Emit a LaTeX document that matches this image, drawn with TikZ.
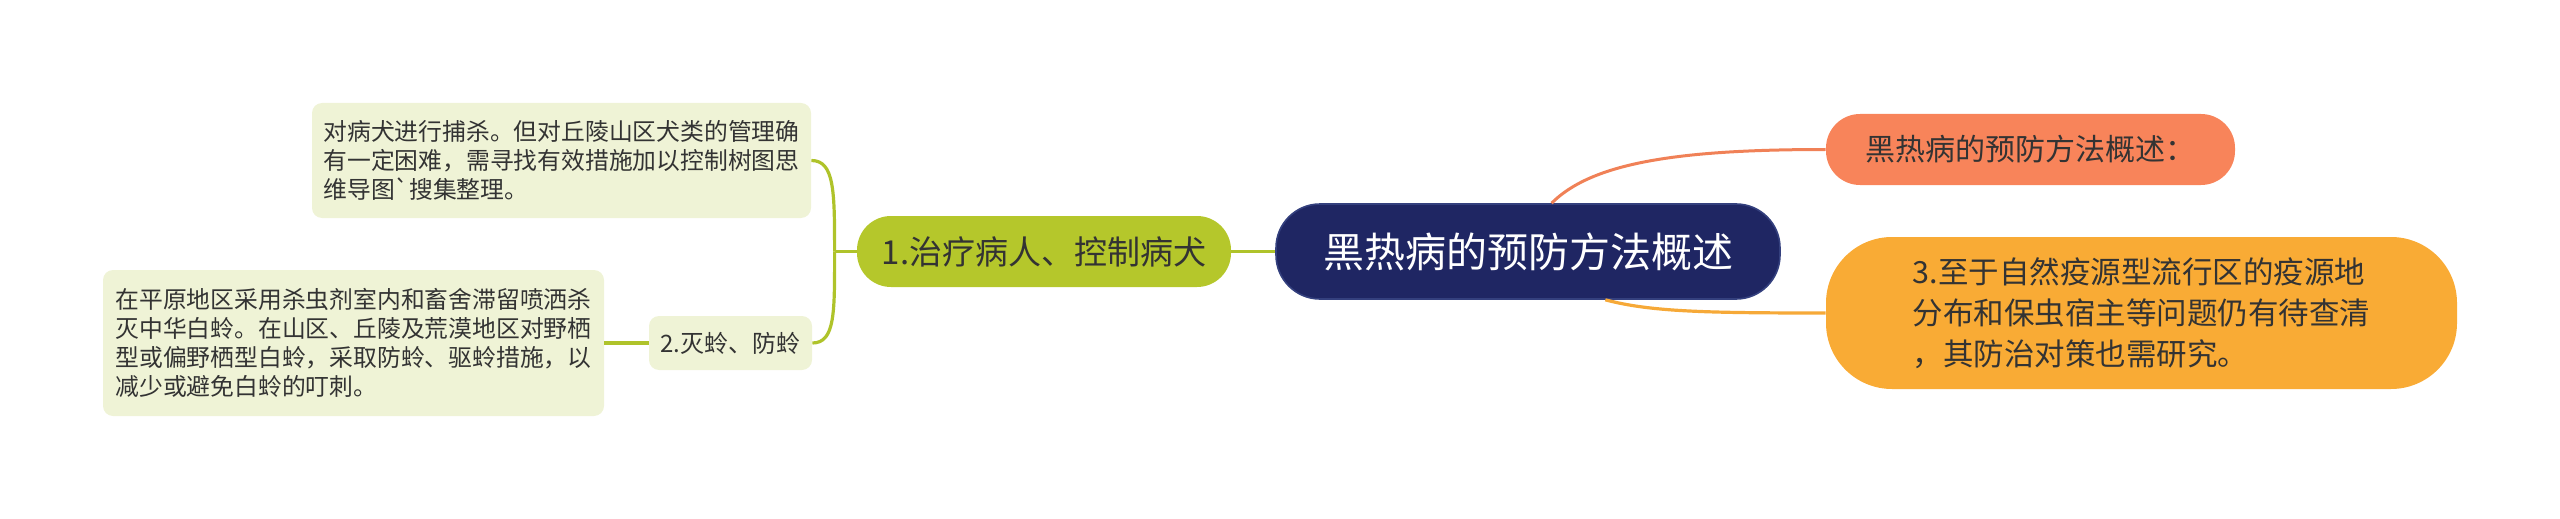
\documentclass[tikz,border=0pt]{standalone}
\usepackage{fontspec}
\setmainfont{Noto Sans CJK SC}
\usetikzlibrary{positioning}

\definecolor{rootbg}{HTML}{1F2663}
\definecolor{rootline}{HTML}{34407E}
\definecolor{limebg}{HTML}{B5C72B}
\definecolor{leafbg}{HTML}{EFF3D6}
\definecolor{coralbg}{HTML}{F8845A}
\definecolor{amberbg}{HTML}{F9AB35}
\definecolor{greenln}{HTML}{AFC32A}
\definecolor{coralln}{HTML}{F08157}
\definecolor{amberln}{HTML}{F6A938}
\definecolor{txt}{HTML}{333333}

\begin{document}
\begin{tikzpicture}[x=0.5pt, y=-0.5pt,
    every node/.style={text=txt, inner sep=0pt},
    root/.style={fill=rootbg, draw=rootline, line width=0.8pt, rounded corners=22pt,
        minimum width=252pt, minimum height=47.5pt, text=white,
        font=\fontsize{20.5pt}{24pt}\selectfont},
    branch/.style={fill=limebg, rounded corners=17pt, minimum width=187pt,
        minimum height=35.5pt, font=\fontsize{16.5pt}{20pt}\selectfont},
    leaf/.style={fill=leafbg, rounded corners=5pt, align=left,
        font=\fontsize{11.9pt}{14.5pt}\selectfont},
    gline/.style={draw=greenln, line width=1.6pt},
    cline/.style={draw=coralln, line width=1.5pt},
    aline/.style={draw=amberln, line width=1.6pt}]

    \useasboundingbox (0,0) rectangle (2560,519);

    % 中心主题
    \node[root] (c) at (1528,251.5) {黑热病的预防方法概述};

    % 左侧分支
    \node[branch] (n1) at (1044,251.5) {1.治疗病人、控制病犬};
    \node[leaf, minimum width=249.5pt, minimum height=57.5pt] (lt) at (561.5,160.5)
        {对病犬进行捕杀。但对丘陵山区犬类的管理确\\
         有一定困难，需寻找有效措施加以控制树图思\\
         维导图\textasciigrave 搜集整理。};
    \node[leaf, minimum width=81.5pt, minimum height=27pt,
        font=\fontsize{12pt}{14pt}\selectfont] (n2) at (730.5,343) {2.灭蛉、防蛉};
    \node[leaf, minimum width=250.5pt, minimum height=73pt] (lb) at (353.5,343)
        {在平原地区采用杀虫剂室内和畜舍滞留喷洒杀\\
         灭中华白蛉。在山区、丘陵及荒漠地区对野栖\\
         型或偏野栖型白蛉，采取防蛉、驱蛉措施，以\\
         减少或避免白蛉的叮刺。};

    % 右侧分支
    \node[fill=coralbg, rounded corners=17pt, minimum width=204.5pt, minimum height=35.5pt,
        font=\fontsize{15pt}{18pt}\selectfont] (o) at (2030.5,149.5) {黑热病的预防方法概述：};
    \node[fill=amberbg, rounded corners=33pt, minimum width=315.5pt, minimum height=76pt,
        align=left, font=\fontsize{15.25pt}{20.5pt}\selectfont] (a) at (2141.5,313)
        {3.至于自然疫源型流行区的疫源地\\
         分布和保虫宿主等问题仍有待查清\\
         ，其防治对策也需研究。};

    % 连线
    \draw[gline] (n1.east) -- (c.west);
    \path (n1.west) ++(-22,0) coordinate (j1);
    \draw[gline] (n1.west) -- (j1);
    \draw[gline] (j1) .. controls +(0,-60) and +(23,0) .. (lt.east);
    \draw[gline] (j1) .. controls +(0,60) and +(23,0) .. (n2.east);
    \draw[gline] (n2.west) -- (lb.east);
    \draw[cline] (c.64) .. controls +(40,-40) and +(-150,0) .. (o.west);
    \draw[aline] (c.-32) .. controls +(45,12) and +(-120,0) .. (a.west);

\end{tikzpicture}
\end{document}
